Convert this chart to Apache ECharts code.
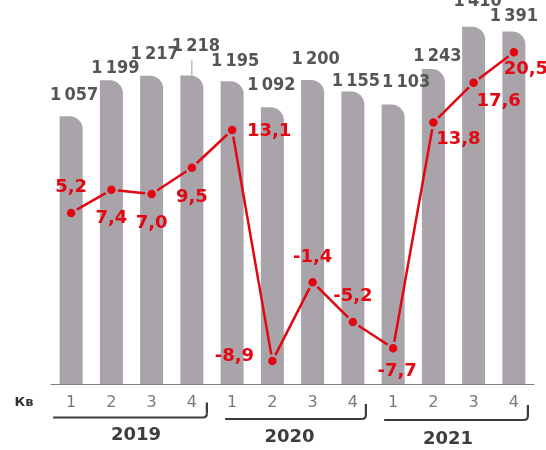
<!DOCTYPE html>
<html>
<head>
<meta charset="utf-8">
<script src="https://cdn.jsdelivr.net/npm/echarts@6/dist/echarts.min.js"></script>
<style>
html,body{margin:0;padding:0;background:#fff;}
#c{width:546px;height:450px;}
</style>
</head>
<body>
<div id="c"></div>
<script>
// ---- data ----
const categories = ['1','2','3','4','1','2','3','4','1','2','3','4'];
const years = ['2019','2020','2021'];
const barValues = [1057,1199,1217,1218,1195,1092,1200,1155,1103,1243,1410,1391];
const growthValues = [5.2,7.4,7.0,9.5,13.1,-8.9,-1.4,-5.2,-7.7,13.8,17.6,20.5];

// ---- layout (label nudges) ----
const barLabelOffsets = [[3,-12],[4,-3],[3,-12],[4,-20],[3,-11],[-1,-13],[3,-12],[3,-1],[13,-13],[4,-4],[4,-16],[0,-6]];
const lineLabelOffsets = [[0,-26],[0,29],[0,29],[0,30],[37,1],[-38,-5],[0,-25],[0,-26],[4,23],[25,17],[25,19],[12,17]];

const RED = '#e30613';
const BAR = '#a8a4a9';
const chart = echarts.init(document.getElementById('c'), null, {renderer:'canvas'});

function fmtThousands(v){ return String(v).replace(/\B(?=(\d{3})+(?!\d))/g, '\u2009'); }
function fmtDec(v){ return v.toFixed(1).replace('.', ','); }

chart.setOption({
  animation:false,
  backgroundColor:'#fff',
  grid:{left:51, right:12, top:4, bottom:66},
  xAxis:{
    type:'category', data:categories,
    axisLine:{show:true, lineStyle:{color:'#7f7f7f', width:1}},
    axisTick:{show:false},
    axisLabel:{color:'#7a7a7a', fontSize:16, fontFamily:'DejaVu Sans', margin:11}
  },
  yAxis:[
    {type:'value', min:0, max:1500, show:false, splitLine:{show:false}},
    {type:'value', min:-11.1, max:25.1, show:false, splitLine:{show:false}}
  ],
  series:[
    {
      type:'bar', yAxisIndex:0, barWidth:23,
      itemStyle:{color:BAR, borderRadius:[0,13,0,0]},
      label:{show:true, position:'top', distance:0, color:'#555555',
        fontFamily:'DejaVu Sans Condensed, DejaVu Sans', fontWeight:'bold', fontSize:18,
        formatter:p=>fmtThousands(p.value)},
      data: barValues.map((v,i)=>({value:v, label:{offset:barLabelOffsets[i]}})),
      z:1
    },
    {
      type:'line', yAxisIndex:1,
      lineStyle:{color:RED, width:2.5},
      symbol:'circle', symbolSize:11,
      itemStyle:{color:RED, borderColor:BAR, borderWidth:2.5},
      label:{show:true, position:'inside', color:RED, fontFamily:'DejaVu Sans',
        fontWeight:'bold', fontSize:18, align:'center', verticalAlign:'middle',
        formatter:p=>fmtDec(p.value)},
      data: growthValues.map((v,i)=>({value:v, label:{offset:lineLabelOffsets[i]}})),
      z:5
    }
  ]
});

// ---- decorations: brackets, year labels, "Кв", leader line ----
const px = i => chart.convertToPixel({xAxisIndex:0}, i);
const bracketLeft = [-18,-7,-9];
const bracketRight = [15,13,14];
const bracketY = [417.5,419,420];
const yearDx = [6,-6,-8];
const yearY = [435,437,439];
const STK = {stroke:'#3a3a3a', lineWidth:2.2, fill:null};
const g = [];
years.forEach((y,k)=>{
  const x0 = px(k*4) + bracketLeft[k];
  const x1 = px(k*4+3) + bracketRight[k];
  const by = bracketY[k];
  g.push({type:'polyline', shape:{points:[[x0,by],[x1-4,by]]}, style:STK});
  g.push({type:'bezierCurve', shape:{x1:x1-4, y1:by, cpx1:x1, cpy1:by, x2:x1, y2:by-4}, style:STK});
  g.push({type:'polyline', shape:{points:[[x1,by-4],[x1,by-15]]}, style:STK});
  g.push({type:'text', x:(x0+x1)/2 + yearDx[k], y:yearY[k], style:{text:y, fill:'#3d3d3d', font:'bold 18px "DejaVu Sans"', textAlign:'center', textVerticalAlign:'middle'}});
});
g.push({type:'text', x:24, y:403, style:{text:'Кв', fill:'#333', font:'bold 13px "DejaVu Sans"', textAlign:'center', textVerticalAlign:'middle'}});
const lx = px(3);
const ly = chart.convertToPixel({yAxisIndex:0}, barValues[3]);
g.push({type:'line', shape:{x1:lx, y1:ly-15, x2:lx, y2:ly}, style:{stroke:'#9a9a9a', lineWidth:1}, z:10});
chart.setOption({graphic:g});
</script>
</body>
</html>
